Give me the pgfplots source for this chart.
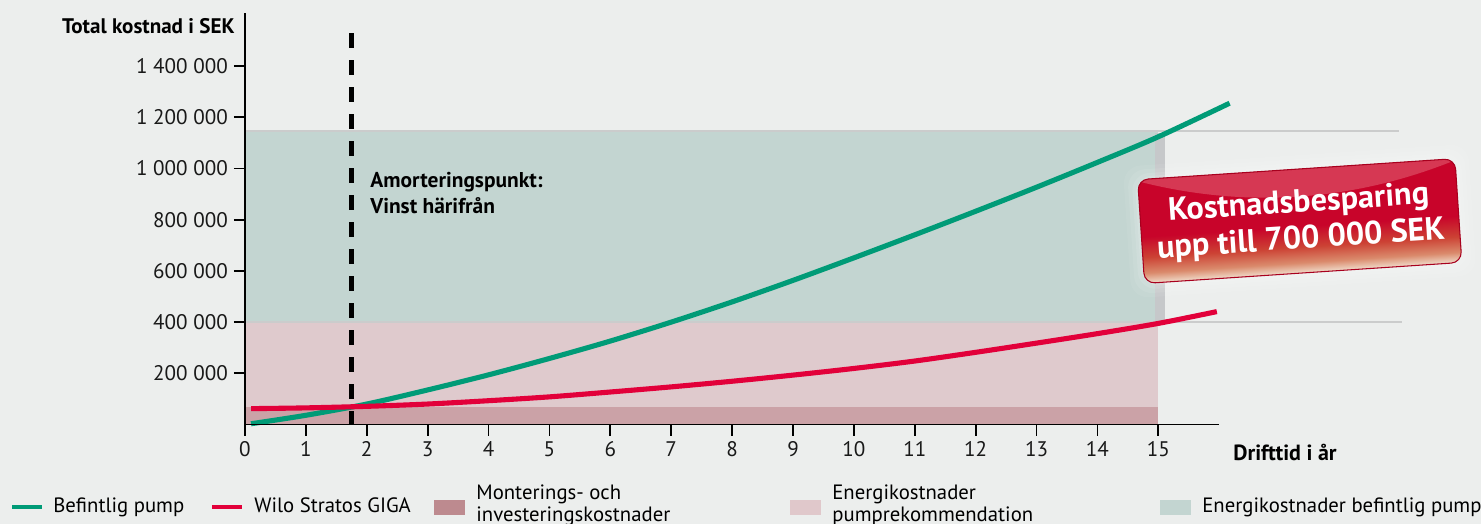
\documentclass[border=0pt]{standalone}
\usepackage{pgfplots}
\pgfplotsset{compat=1.18}
\usepackage{fontspec}
\setmainfont{PT Sans}
\definecolor{bg}{HTML}{ECEEED}
\definecolor{wgreen}{HTML}{009B77}
\definecolor{wred}{HTML}{E2003A}
\definecolor{rectgreen}{HTML}{C3D5D1}
\definecolor{rectpink}{HTML}{DFCACD}
\definecolor{rectdark}{HTML}{CBA2A7}
\definecolor{legdark}{HTML}{BD8A8F}
\definecolor{legpink}{HTML}{E0C8CB}
\definecolor{gridc}{HTML}{CBCCCC}
\definecolor{shadowbar}{HTML}{C6C8CA}
\definecolor{bb0}{HTML}{F0DCCB}
\definecolor{bb1}{HTML}{DA8A6C}
\definecolor{bb2}{HTML}{CC4234}
\definecolor{bb3}{HTML}{C8042A}
\definecolor{badgehi}{HTML}{D63853}
\definecolor{badgeedge}{HTML}{A8001E}
\pgfdeclareverticalshading{badgeshade}{100bp}{color(0bp)=(bb0); color(25bp)=(bb0); color(30bp)=(bb1); color(37.5bp)=(bb2); color(47.5bp)=(bb3); color(75bp)=(bb3); color(100bp)=(bb3)}
\begin{document}
\begin{tikzpicture}[x=0.02cm,y=0.02cm]
\fill[bg] (0,0) rectangle (1481,524);
\path[use as bounding box] (0,0) rectangle (1481,524);
\begin{axis}[
  at={(4.9cm,1.99cm)}, anchor=south west,
  scale only axis, width=19.49cm, height=8.23cm,
  xmin=0, xmax=16, ymin=0, ymax=1607000,
  axis x line*=bottom, axis y line*=left,
  axis line style={line width=1.1pt, black, -},
  clip=false, axis on top,
  xtick={0,1,2,3,4,5,6,7,8,9,10,11,12,13,14,15},
  xticklabels={0,1,2,3,4,5,6,7,8,9,10,11,12,13,14,15},
  ytick={200000,400000,600000,800000,1000000,1200000,1400000},
  yticklabels={{200 000},{400 000},{600 000},{800 000},{1 000 000},{1 200 000},{1 400 000}},
  scaled y ticks=false,
  tick align=outside, major tick length=0.22cm,
  tick style={line width=1pt, black},
  ticklabel style={font=\fontsize{12}{14}\selectfont, text=black!90},
]
% energy costs existing pump (green area)
\addplot[fill=rectgreen, draw=none] coordinates {(0,400000) (15,400000) (15,1145000) (0,1145000)};
% shadow at right edge
\addplot[fill=shadowbar, draw=none] coordinates {(14.94,400000) (15.11,400000) (15.11,1140000) (14.94,1140000)};
% energy costs recommendation (light pink)
\addplot[fill=rectpink, draw=none] coordinates {(0,0) (15,0) (15,400000) (0,400000)};
% installation/investment (dark pink)
\addplot[fill=rectdark, draw=none] coordinates {(0,0) (15,0) (15,70000) (0,70000)};
% grid lines
\addplot[gridc, line width=1.1pt] coordinates {(0,400000) (19.0,400000)};
\addplot[gridc, line width=1.1pt] coordinates {(0,1145000) (18.95,1145000)};
% payback point
\addplot[black, line width=3pt, dash pattern=on 0.3cm off 0.24cm] coordinates {(1.75,1529000) (1.75,0)};
% Befintlig pump
\addplot[wgreen, line width=2.9pt, smooth] coordinates {
(0.1,3000) (1,36000) (2,80000) (3,135000) (4,194000) (5,258000) (6,326000)
(7,400000) (8,479000) (9,563000) (10,651000) (11,741000) (12,833000)
(13,927000) (14,1024000) (15,1124000) (16.17,1255000)};
% Wilo Stratos GIGA
\addplot[wred, line width=2.9pt, smooth] coordinates {
(0.1,62000) (1,65000) (2,71000) (3,80000) (4,93000) (5,108000) (6,127000)
(7,147000) (8,169000) (9,193000) (10,219000) (11,248000) (12,282000)
(13,318000) (14,355000) (15,395000) (15.96,441000)};
\end{axis}
% axis titles
\node[anchor=base east, inner sep=0, font=\bfseries\fontsize{12}{14}\selectfont] at (235,490) {Total kostnad i SEK};
\node[anchor=base west, inner sep=0, font=\bfseries\fontsize{12.5}{14}\selectfont] at (1233,63) {Drifttid i år};
% annotation
\node[anchor=base west, inner sep=0, font=\bfseries\fontsize{12.2}{14}\selectfont] at (370,336.7) {Amorteringspunkt:};
\node[anchor=base west, inner sep=0, font=\bfseries\fontsize{12.2}{14}\selectfont] at (370,310.7) {Vinst härifrån};
% badge
\begin{scope}[transform canvas={shift={(26cm,6.06cm)}, rotate=3.8}]
  \foreach \g/\o in {14/0.06,10/0.08,6/0.1,3/0.12}{
    \fill[white, opacity=\o, rounded corners=10] (-159-\g,-52-\g) rectangle (159+\g,52+\g);
  }
  \path[rounded corners=6, shading=badgeshade] (-159,-52) rectangle (159,52);
  \begin{scope}
    \clip[rounded corners=6] (-159,-52) rectangle (159,52);
    \fill[badgehi] (-175,70) -- (-175,56) .. controls (-60,14) and (60,14) .. (175,56) -- (175,70) -- cycle;
  \end{scope}
  \draw[rounded corners=6, badgeedge, line width=0.6pt] (-159,-52) rectangle (159,52);
  \node[text=white, align=center, font=\bfseries\fontsize{18.4}{20.8}\selectfont] at (0,-1) {Kostnadsbesparing\\upp till 700 000 SEK};
\end{scope}
% legend
\def\lf{\fontsize{11.8}{14}\selectfont}
\draw[wgreen, line width=2.6pt] (12,17) -- (42,17);
\node[anchor=base west, inner sep=0, font=\lf] at (53,11) {Befintlig pump};
\draw[wred, line width=2.6pt] (212,17) -- (242,17);
\node[anchor=base west, inner sep=0, font=\lf] at (254,11) {Wilo Stratos GIGA};
\fill[legdark] (434,9) rectangle (465,24);
\node[anchor=base west, inner sep=0, font=\lf] at (476,24) {Monterings- och};
\node[anchor=base west, inner sep=0, font=\lf] at (476,2) {investeringskostnader};
\fill[legpink] (790,9) rectangle (821,24);
\node[anchor=base west, inner sep=0, font=\lf] at (832,24) {Energikostnader};
\node[anchor=base west, inner sep=0, font=\lf] at (832,2) {pumprekommendation};
\fill[rectgreen] (1160,9) rectangle (1191,24);
\node[anchor=base west, inner sep=0, font=\lf] at (1202,11) {Energikostnader befintlig pump};
\end{tikzpicture}
\end{document}
